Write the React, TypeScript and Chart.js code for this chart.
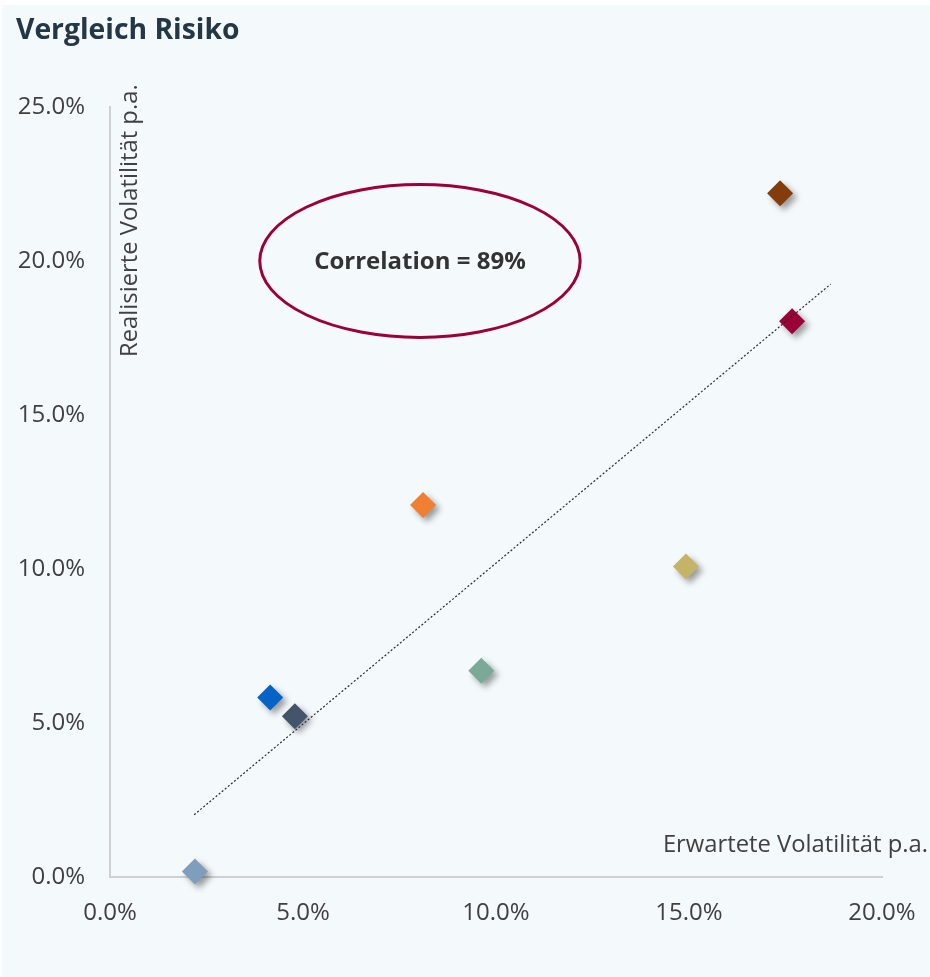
import React, { useEffect, useRef } from 'react';
import { Chart, registerables } from 'chart.js';

Chart.register(...registerables);

// ---- data ----
const titleText = 'Vergleich Risiko';
const xAxisTitle = 'Erwartete Volatilität p.a.';
const yAxisTitle = 'Realisierte Volatilität p.a.';
const annotationText = 'Correlation = 89%';

const expectedVol = [17.36, 17.67, 8.11, 14.92, 9.62, 4.15, 4.79, 2.2];
const realizedVol = [22.2, 18.04, 12.08, 10.08, 6.7, 5.83, 5.22, 0.18];
const pointColors = ['#843c0c', '#9b0037', '#f07f32', '#c4b467', '#7aaa97', '#0563c8', '#44546a', '#7f9dbc'];

const trendX = [2.18, 18.67];
const trendY = [2.02, 19.25];

const xTickValues = [0, 5, 10, 15, 20];
const yTickValues = [0, 5, 10, 15, 20, 25];

const ellipseCenter = [8.03, 20.0];
const ellipseRadii = [4.15, 2.48];

const FONT = "'Open Sans', sans-serif";

const overlayPlugin = {
  id: 'overlay',
  beforeDatasetDraw(chart: any, args: any) {
    if (args.index === 1) {
      const ctx = chart.ctx;
      ctx.save();
      ctx.shadowColor = 'rgba(0,0,0,0.38)';
      ctx.shadowBlur = 6;
      ctx.shadowOffsetX = 4;
      ctx.shadowOffsetY = 4;
    }
  },
  afterDatasetDraw(chart: any, args: any) {
    if (args.index === 1) chart.ctx.restore();
  },
  afterDraw(chart: any) {
    const ctx = chart.ctx;
    const xs = chart.scales.x;
    const ys = chart.scales.y;
    ctx.save();
    // title
    ctx.fillStyle = '#243746';
    ctx.font = `bold 28.3px ${FONT}`;
    ctx.textAlign = 'left';
    ctx.textBaseline = 'alphabetic';
    ctx.fillText(titleText, 16, 39);

    // ellipse
    const cx = xs.getPixelForValue(ellipseCenter[0]);
    const cy = ys.getPixelForValue(ellipseCenter[1]);
    const rx = xs.getPixelForValue(ellipseCenter[0] + ellipseRadii[0]) - cx;
    const ry = cy - ys.getPixelForValue(ellipseCenter[1] + ellipseRadii[1]);
    ctx.beginPath();
    ctx.ellipse(cx, cy, rx, ry, 0, 0, Math.PI * 2);
    ctx.strokeStyle = '#9b0037';
    ctx.lineWidth = 3;
    ctx.stroke();

    ctx.fillStyle = '#333333';
    ctx.font = `bold 24px ${FONT}`;
    ctx.textAlign = 'center';
    ctx.textBaseline = 'middle';
    ctx.fillText(annotationText, cx, cy + 1);

    // axis titles
    ctx.fillStyle = '#404040';
    ctx.font = `23.8px ${FONT}`;
    ctx.textAlign = 'right';
    ctx.textBaseline = 'alphabetic';
    ctx.fillText(xAxisTitle, 928, 852);

    ctx.save();
    ctx.translate(137, 357);
    ctx.rotate(-Math.PI / 2);
    ctx.textAlign = 'left';
    ctx.fillText(yAxisTitle, 0, 0);
    ctx.restore();

    ctx.restore();
  },
};

export default function App() {
  const canvasRef = useRef<HTMLCanvasElement | null>(null);

  useEffect(() => {
    if (!canvasRef.current) return;
    const tickFont = { family: FONT, size: 24 };
    const chart = new Chart(canvasRef.current, {
      type: 'scatter',
      data: {
        datasets: [
          {
            type: 'line',
            data: trendX.map((x, i) => ({ x, y: trendY[i] })),
            borderColor: '#2a2a2a',
            borderWidth: 1.2,
            borderDash: [2, 2],
            pointRadius: 0,
            fill: false,
          } as any,
          {
            data: expectedVol.map((x, i) => ({ x, y: realizedVol[i] })),
            pointStyle: 'rectRot',
            pointRadius: 13,
            pointHoverRadius: 13,
            pointBackgroundColor: pointColors,
            pointBorderColor: pointColors,
            pointBorderWidth: 0,
            clip: false,
          } as any,
        ],
      },
      options: {
        animation: false,
        responsive: false,
        layout: { padding: { top: 107, right: 48, left: 0, bottom: 0 } },
        plugins: { legend: { display: false }, tooltip: { enabled: false }, title: { display: false } },
        scales: {
          x: {
            type: 'linear',
            min: 0,
            max: 20,
            afterFit: (s: any) => { s.height = 100; s.paddingLeft = 0; s.paddingRight = 0; },
            afterBuildTicks: (s: any) => { s.ticks = xTickValues.map((v) => ({ value: v })); },
            grid: { display: false, drawTicks: false },
            border: { display: true, color: '#d0d0d0', width: 2 },
            ticks: {
              padding: 22,
              color: '#404040',
              font: tickFont,
              callback: (v: any) => `${Number(v).toFixed(1)}%`,
            },
          },
          y: {
            type: 'linear',
            min: 0,
            max: 25,
            afterFit: (s: any) => { s.width = 110; s.paddingTop = 0; s.paddingBottom = 0; },
            afterBuildTicks: (s: any) => { s.ticks = yTickValues.map((v) => ({ value: v })); },
            grid: { display: false, drawTicks: false },
            border: { display: true, color: '#d0d0d0', width: 2 },
            ticks: {
              padding: 25,
              color: '#404040',
              font: tickFont,
              callback: (v: any) => `${Number(v).toFixed(1)}%`,
            },
          },
        },
      },
      plugins: [overlayPlugin],
    });
    return () => chart.destroy();
  }, []);

  return (
    <div style={{ position: 'absolute', left: 0, top: 0, width: 930, height: 977, background: '#ffffff', overflow: 'hidden' }}>
      <div style={{ position: 'absolute', left: 2, top: 5, width: 928, height: 972, background: '#f4f9fb' }} />
      <canvas ref={canvasRef} width={930} height={977} style={{ position: 'absolute', left: 0, top: 0, width: 930, height: 977 }} />
    </div>
  );
}
